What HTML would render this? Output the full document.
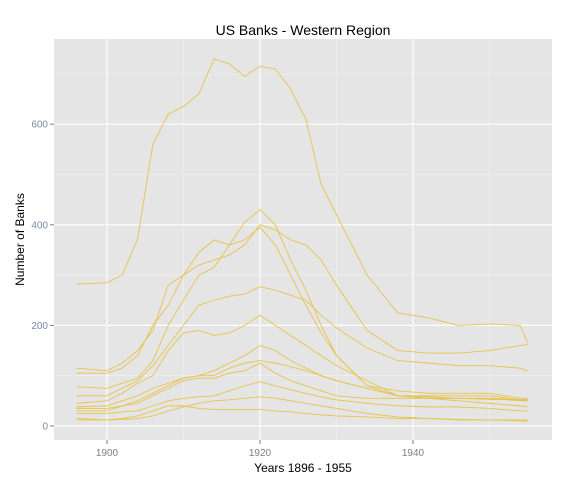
<!DOCTYPE html>
<html><head><meta charset="utf-8"><style>
body{margin:0;background:#fff;font-family:"Liberation Sans",sans-serif}
</style></head><body>
<svg id="chart" width="570" height="485" xmlns="http://www.w3.org/2000/svg"></svg>
<script>
const years=[1896,1900,1902,1904,1906,1908,1910,1912,1914,1916,1918,1920,1922,1924,1926,1928,1930,1934,1938,1942,1946,1950,1954,1955];
const sA=[282,285,300,372,560,620,635,660,730,720,695,715,710,670,610,480,420,300,225,215,200,203,200,165];
const sB=[115,110,125,150,190,280,300,345,370,360,405,430,400,330,270,200,140,80,60,55,55,55,50,50];
const sC=[105,105,115,140,200,240,300,320,330,340,360,400,390,370,360,330,280,190,150,145,145,150,160,162];
const sD=[78,75,85,95,130,200,250,300,315,360,370,395,360,300,240,185,140,80,70,65,65,65,55,55];
const sE=[60,60,75,90,120,160,200,240,250,258,262,277,270,260,250,220,195,155,130,125,120,120,115,110];
const sF=[45,50,65,85,100,150,185,190,180,185,200,220,200,180,160,140,120,90,60,60,60,60,52,52];
const sG=[38,40,50,60,75,85,95,100,110,125,140,160,150,130,115,100,90,75,60,55,50,45,40,38];
const sH=[30,30,40,50,65,80,95,100,100,115,125,130,125,118,110,100,90,75,60,58,55,53,52,52];
const sI=[35,35,40,45,60,75,90,95,95,105,110,125,105,90,80,70,60,55,55,55,55,55,52,52];
const sJ=[25,25,28,30,40,50,55,58,60,70,80,88,80,72,65,58,52,45,40,38,38,35,30,30];
const sK=[12,12,15,20,30,40,40,35,33,33,33,33,30,28,25,22,20,18,15,15,12,12,10,10];
const sL=[15,12,13,15,20,30,38,45,50,52,55,58,55,50,45,40,35,25,18,15,13,12,12,12];
const series=[sA,sB,sC,sD,sE,sF,sG,sH,sI,sJ,sK,sL];
const xTicks=[1900,1920,1940];
const yTicks=[0,200,400,600];
const L=54,R=552,T=39,B=440;
const x=y=>107+(y-1900)*7.65;
const yv=v=>426-v*0.503;
const svg=document.getElementById('chart');
const NS='http://www.w3.org/2000/svg';
function mk(t,a){const e=document.createElementNS(NS,t);for(const k in a)e.setAttribute(k,a[k]);svg.appendChild(e);return e;}
const bg=mk('rect',{x:L,y:T,width:R-L,height:B-T,fill:'#e5e5e5'});


[1910,1930,1950].forEach(v=>{const g=mk('line',{x1:x(v),x2:x(v),y1:T,y2:B,stroke:'#f2f2f2','stroke-width':0.6});
});
[100,300,500,700].forEach(v=>{const g=mk('line',{x1:L,x2:R,y1:yv(v),y2:yv(v),stroke:'#f2f2f2','stroke-width':0.6});
});
xTicks.forEach(v=>{const g=mk('line',{x1:x(v),x2:x(v),y1:T,y2:B,stroke:'#fff','stroke-width':1.2});

const k=mk('line',{x1:x(v),x2:x(v),y1:B,y2:B+4,stroke:'#7f7f7f','stroke-width':1});

const t=mk('text',{x:x(v),y:B+16,'text-anchor':'middle','font-size':10,fill:'#7f7f7f'});t.textContent=v;
});
yTicks.forEach(v=>{const g=mk('line',{x1:L,x2:R,y1:yv(v),y2:yv(v),stroke:'#fff','stroke-width':1.2});

const k=mk('line',{x1:L-4,x2:L,y1:yv(v),y2:yv(v),stroke:'#7f7f7f','stroke-width':1});

const t=mk('text',{x:L-6,y:yv(v)+3.5,'text-anchor':'end','font-size':10,fill:'#7a8aa6'});t.textContent=v;
});
series.forEach((s,i)=>{const p=mk('polyline',{points:s.map((v,j)=>x(years[j])+','+yv(v)).join(' '),fill:'none',stroke:'#e6c34a','stroke-width':0.9});
});
const ti=mk('text',{x:(L+R)/2,y:35,'text-anchor':'middle','font-size':14,fill:'#000'});ti.textContent='US Banks - Western Region';

const xt=mk('text',{x:(L+R)/2,y:472,'text-anchor':'middle','font-size':12,fill:'#000'});xt.textContent='Years 1896 - 1955';

const yt=mk('text',{x:0,y:0,'text-anchor':'middle','font-size':12,fill:'#000',transform:'translate(24,'+((T+B)/2)+') rotate(-90)'});yt.textContent='Number of Banks';

</script>
</body></html>
